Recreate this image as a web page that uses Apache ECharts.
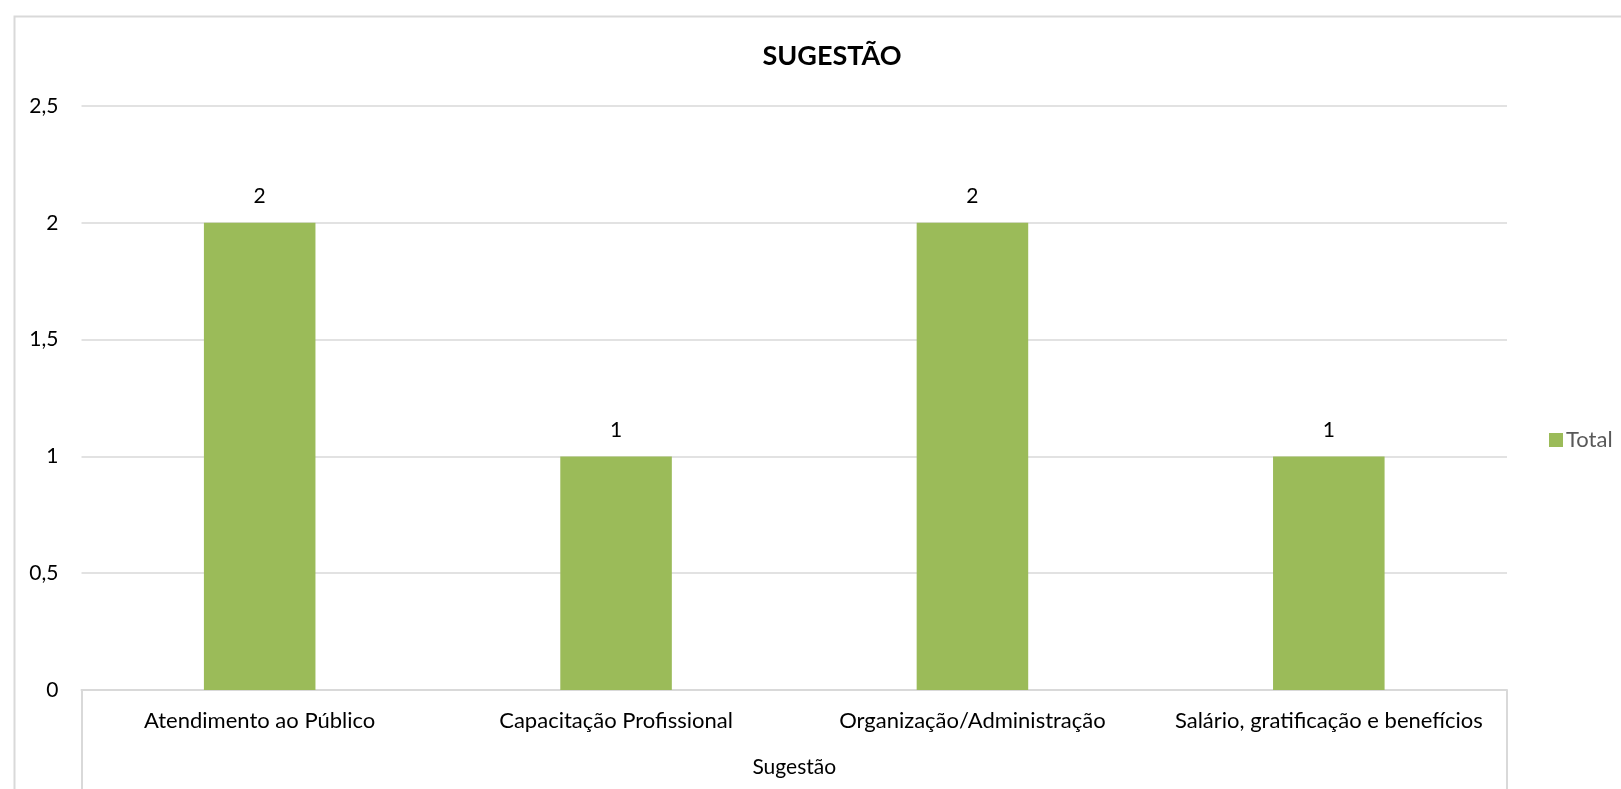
<!DOCTYPE html>
<html>
<head>
<meta charset="utf-8">
<script src="https://cdn.jsdelivr.net/npm/echarts@6/dist/echarts.min.js"></script>
<style>
  html, body { margin: 0; padding: 0; background: #fff; }
  #chart { width: 1621px; height: 789px; }
</style>
</head>
<body>
<div id="chart"></div>
<script>
const categories = [
  "Atendimento ao Público",
  "Capacitação Profissional",
  "Organização/Administração",
  "Salário, gratificação e benefícios"
];
const totals = [2, 1, 2, 1];
const groupLabels = ["Sugestão"];
const seriesName = "Total";

const font = "Lato, 'Open Sans', sans-serif";
const gridColor = "#d9d9d9";

const chart = echarts.init(document.getElementById("chart"));

chart.setOption({
  animation: false,
  textStyle: { fontFamily: font },
  graphic: [
    {
      // outer chart border
      type: "rect",
      left: 12,
      top: 14,
      shape: { width: 1640, height: 800 },
      style: { fill: "none", stroke: gridColor, lineWidth: 2 },
      silent: true
    }
  ],
  title: {
    text: "SUGESTÃO",
    left: 827,
    top: 38,
    textAlign: "center",
    textStyle: {
      fontFamily: font,
      fontWeight: "bold",
      fontSize: 27,
      color: "#000"
    }
  },
  legend: {
    left: 1549,
    top: 429,
    padding: 0,
    itemWidth: 14,
    itemHeight: 14,
    itemGap: 4,
    icon: "rect",
    data: [seriesName],
    textStyle: { fontFamily: font, fontSize: 22, color: "#595959", padding: [0, 0, 0, -2] }
  },
  grid: {
    left: 81.5,
    right: 114,
    top: 106,
    bottom: 99
  },
  xAxis: [
    {
      type: "category",
      data: categories,
      axisLine: { lineStyle: { color: gridColor, width: 2 } },
      axisTick: { show: false },
      axisLabel: {
        color: "#000",
        fontSize: 22,
        margin: 20,
        interval: 0
      }
    },
    {
      type: "category",
      position: "bottom",
      data: groupLabels,
      axisLine: { show: false },
      axisTick: {
        show: true,
        length: 110,
        lineStyle: { color: gridColor, width: 2 }
      },
      axisLabel: {
        color: "#000",
        fontSize: 21,
        margin: 67
      }
    }
  ],
  yAxis: {
    type: "value",
    min: 0,
    max: 2.5,
    interval: 0.5,
    axisLine: { show: false },
    axisTick: { show: false },
    splitLine: { lineStyle: { color: gridColor, width: 1.5 } },
    axisLabel: {
      color: "#000",
      fontSize: 21,
      margin: 23,
      formatter: v => String(v).replace(".", ",")
    }
  },
  series: [
    {
      name: seriesName,
      type: "bar",
      xAxisIndex: 0,
      data: totals,
      barWidth: "31.3%",
      itemStyle: { color: "#9bbb59" },
      label: {
        show: true,
        position: "top",
        distance: 16,
        color: "#000",
        fontSize: 21,
        fontFamily: font
      }
    }
  ]
});
</script>
</body>
</html>
